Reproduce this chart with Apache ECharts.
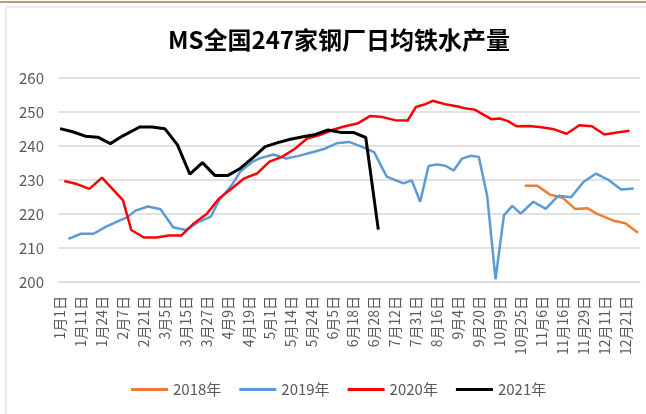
<!doctype html>
<html>
<head>
<meta charset="utf-8">
<title>MS全国247家钢厂日均铁水产量</title>
<style>
	html,body{height: 100%; padding: 0; margin: 0; background: #fff;}
</style>
</head>
<body>
<div style="height: 414px; width: 646px;" id="chart"></div>
<script src="https://cdn.jsdelivr.net/npm/echarts@6/dist/echarts.min.js"></script>
<script>
// tick labels shown under the axis (one every 5 categories)
var tickLabels = ['1月1日', '1月11日', '1月24日', '2月7日', '2月21日', '3月5日', '3月15日', '3月27日',
	'4月9日', '4月19日', '5月1日', '5月14日', '5月24日', '6月5日', '6月18日', '6月28日',
	'7月12日', '7月31日', '8月16日', '9月4日', '9月20日', '10月9日', '10月25日', '11月6日',
	'11月16日', '11月29日', '12月11日', '12月21日'];
var categoryCount = 139;

// each year: category position and value
var idx2018 = [111, 114, 117, 120, 123, 126, 128, 132, 135, 138];
var val2018 = [228.3, 228.3, 225.7, 224.8, 221.5, 221.7, 220.2, 218.1, 217.3, 214.5];

var idx2019 = [2, 5, 8, 11, 14, 16, 18, 21, 24, 27, 30, 33, 36, 38, 41, 43, 46, 48, 51, 54,
	57, 60, 63, 66, 69, 72, 75, 78, 82, 84, 86, 88, 90, 92, 94, 96, 98, 100, 102, 104,
	106, 108, 110, 113, 116, 119, 122, 125, 128, 131, 134, 137];
var val2019 = [212.7, 214.2, 214.2, 216.3, 218.0, 219.0, 221.0, 222.2, 221.4, 216.1, 215.3, 217.6, 219.2, 224.1, 228.5, 232.4, 235.4, 236.5, 237.5, 236.3,
	237.1, 238.1, 239.1, 240.8, 241.2, 239.8, 238.2, 231.0, 229.0, 229.9, 223.6, 234.1, 234.6, 234.2, 232.8, 236.3, 237.1, 236.8, 225.3, 200.8,
	219.6, 222.4, 220.1, 223.6, 221.5, 225.4, 224.9, 229.4, 231.9, 230.0, 227.2, 227.5];

var idx2020 = [1, 4, 7, 10, 15, 17, 20, 23, 26, 29, 32, 35, 38, 41, 44, 47, 50, 53, 56, 59,
	62, 65, 68, 71, 74, 77, 80, 83, 85, 87, 89, 92, 95, 97, 99, 101, 103, 105, 107, 109,
	112, 115, 118, 121, 124, 127, 130, 133, 136];
var val2020 = [229.7, 228.8, 227.4, 230.7, 224.1, 215.3, 213.1, 213.1, 213.7, 213.7, 217.3, 220.0, 224.6, 227.5, 230.5, 231.9, 235.4, 236.8, 239.1, 242.2,
	243.2, 244.7, 245.8, 246.6, 248.8, 248.5, 247.6, 247.5, 251.5, 252.2, 253.3, 252.3, 251.6, 251.0, 250.7, 249.3, 247.9, 248.1, 247.3, 245.8,
	245.9, 245.5, 244.9, 243.6, 246.1, 245.8, 243.4, 244.0, 244.5];

var idx2021 = [0, 3, 6, 9, 12, 15, 19, 22, 25, 28, 31, 34, 37, 40, 43, 46, 49, 52, 55, 58, 61, 64, 67, 70, 73, 76];
var val2021 = [245.1, 244.2, 242.9, 242.6, 240.7, 243.0, 245.6, 245.6, 245.1, 240.4, 231.7, 235.1, 231.3, 231.3, 233.4, 236.5,
	239.8, 241.0, 242.0, 242.7, 243.4, 244.7, 244.0, 244.0, 242.5, 215.4];

function pairs(idx, val){
	var out = [];
	for(var i = 0; i < idx.length; i++){ out.push([idx[i], val[i]]); }
	return out;
}

var categories = [];
for(var i = 0; i < categoryCount; i++){
	categories.push(i % 5 === 0 ? (tickLabels[i / 5] || '') : '');
}

var font = '"Noto Sans CJK SC", sans-serif';
var myChart = echarts.init(document.getElementById('chart'));
var option = {
	animation: false,
	textStyle: {fontFamily: font},
	title: {
		text: 'MS全国247家钢厂日均铁水产量',
		left: 334,
		textAlign: 'center',
		top: 23,
		textStyle: {fontSize: 24, fontWeight: 'bold', color: '#000', fontFamily: '"Liberation Sans Narrow", "Noto Sans CJK SC", sans-serif'}
	},
	graphic: [
		{type: 'rect', shape: {x: 0, y: 1, width: 646, height: 2}, style: {fill: '#bd9f6e'}, silent: true},
		{type: 'rect', shape: {x: 6, y: 7, width: 660, height: 430}, style: {fill: 'none', stroke: '#d9d9d9', lineWidth: 1}, silent: true}
	],
	legend: {
		left: 126,
		top: 377,
		itemWidth: 37,
		itemHeight: 3,
		itemGap: 18,
		icon: 'rect',
		textStyle: {fontSize: 15, color: '#595959', fontFamily: font},
		data: ['2018年', '2019年', '2020年', '2021年']
	},
	grid: {left: 58, right: 6, top: 78, bottom: 132},
	xAxis: {
		type: 'category',
		data: categories,
		boundaryGap: true,
		axisLine: {lineStyle: {color: '#d9d9d9'}},
		axisTick: {show: false},
		axisLabel: {interval: 4, rotate: 90, margin: 14, fontSize: 14, color: '#595959', fontFamily: font}
	},
	yAxis: {
		type: 'value',
		min: 200,
		max: 260,
		interval: 10,
		axisLine: {show: false},
		axisTick: {show: false},
		axisLabel: {margin: 14, fontSize: 15, color: '#595959', fontFamily: font},
		splitLine: {lineStyle: {color: '#d9d9d9', width: 1.5}}
	},
	series: [
		{name: '2018年', type: 'line', data: pairs(idx2018, val2018), showSymbol: false, color: '#ED7D31', lineStyle: {width: 2.5}},
		{name: '2019年', type: 'line', data: pairs(idx2019, val2019), showSymbol: false, color: '#5B9BD5', lineStyle: {width: 2.5}},
		{name: '2020年', type: 'line', data: pairs(idx2020, val2020), showSymbol: false, color: '#FF0000', lineStyle: {width: 2.5}},
		{name: '2021年', type: 'line', data: pairs(idx2021, val2021), showSymbol: false, color: '#000000', lineStyle: {width: 3}}
	]
};
myChart.setOption(option);
</script>
</body>
</html>
